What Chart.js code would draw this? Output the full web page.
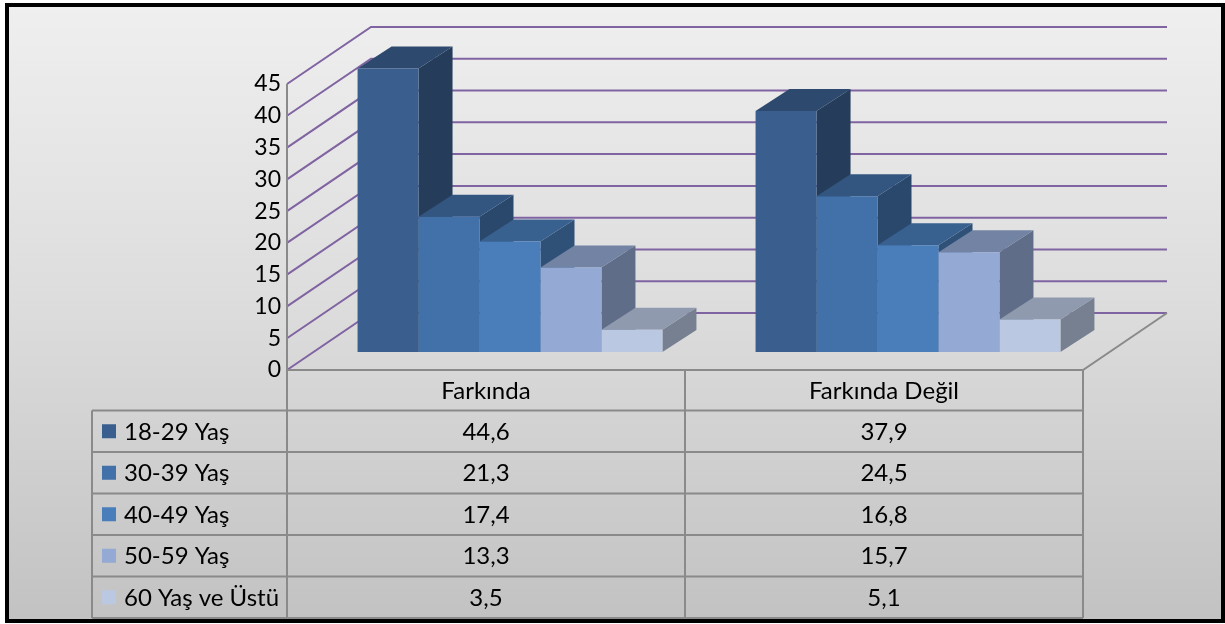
<!DOCTYPE html>
<html>
<head>
<meta charset="utf-8">
<script src="https://cdn.jsdelivr.net/npm/chart.js@4.4.1/dist/chart.umd.min.js"></script>
<style>
  html, body { margin: 0; padding: 0; background: #fff; }
  canvas { display: block; }
</style>
</head>
<body>
<canvas id="chart" width="1225" height="624"></canvas>
<script>
// Veriler
const categories = ['Farkında', 'Farkında Değil'];
const seriesNames = ['18-29 Yaş', '30-39 Yaş', '40-49 Yaş', '50-59 Yaş', '60 Yaş ve Üstü'];
const age18to29 = [44.6, 37.9];
const age30to39 = [21.3, 24.5];
const age40to49 = [17.4, 16.8];
const age50to59 = [13.3, 15.7];
const age60plus = [3.5, 5.1];
const yTicks = [0, 5, 10, 15, 20, 25, 30, 35, 40, 45];

const seriesValues = [age18to29, age30to39, age40to49, age50to59, age60plus];
const frontColors = ['#3a5f8e', '#4270a8', '#4a7ebb', '#94aad4', '#bac8e2'];

// 3B görünüm için kaydırmalar
const WALL_DEPTH = { x: 84, y: -57 };
const BAR_SHIFT = { x: 24, y: -18 };
const BAR_DEPTH = { x: 34, y: -22 };
const FONT = 'Lato, "Open Sans", sans-serif';

function shade(hex, f) {
    const n = parseInt(hex.slice(1), 16);
    const r = Math.round(((n >> 16) & 255) * f);
    const g = Math.round(((n >> 8) & 255) * f);
    const b = Math.round((n & 255) * f);
    return `rgb(${r},${g},${b})`;
}

function poly(ctx, pts) {
    ctx.beginPath();
    ctx.moveTo(pts[0][0], pts[0][1]);
    for (let i = 1; i < pts.length; i++) ctx.lineTo(pts[i][0], pts[i][1]);
    ctx.closePath();
    ctx.fill();
}

const scene3d = {
    id: 'scene3d',
    beforeDraw(chart) {
        const ctx = chart.ctx;
        ctx.save();
        ctx.fillStyle = '#fff';
        ctx.fillRect(0, 0, chart.width, chart.height);
        const grad = ctx.createLinearGradient(0, 5, 0, 621);
        grad.addColorStop(0, '#efefef');
        grad.addColorStop(0.5, '#dcdcdc');
        grad.addColorStop(1, '#c2c2c2');
        ctx.fillStyle = grad;
        ctx.fillRect(7, 5, 1216, 616);
        ctx.restore();
    },
    beforeDatasetsDraw(chart) {
        const { ctx, chartArea: a, scales: { y } } = chart;
        // Duvar çizgileri
        ctx.save();
        ctx.strokeStyle = '#8064a2';
        ctx.lineWidth = 2;
        yTicks.forEach(v => {
            const py = y.getPixelForValue(v);
            ctx.beginPath();
            ctx.moveTo(a.left, py);
            ctx.lineTo(a.left + WALL_DEPTH.x, py + WALL_DEPTH.y);
            ctx.lineTo(a.right + WALL_DEPTH.x, py + WALL_DEPTH.y);
            ctx.stroke();
        });
        // Zemin ve sol kenar
        ctx.strokeStyle = '#8a8a8a';
        ctx.beginPath();
        ctx.moveTo(a.left, a.top);
        ctx.lineTo(a.left, a.bottom);
        ctx.lineTo(a.right, a.bottom);
        ctx.lineTo(a.right + WALL_DEPTH.x, a.bottom + WALL_DEPTH.y);
        ctx.stroke();
        ctx.restore();

        // Çubukların yan ve üst yüzleri (ön yüzü Chart.js çiziyor)
        ctx.save();
        ctx.translate(BAR_SHIFT.x, BAR_SHIFT.y);
        chart.data.datasets.forEach((ds, i) => {
            const meta = chart.getDatasetMeta(i);
            meta.data.forEach(bar => {
                const p = bar.getProps(['x', 'y', 'base', 'width'], true);
                const l = p.x - p.width / 2, r = p.x + p.width / 2;
                const dx = BAR_DEPTH.x, dy = BAR_DEPTH.y;
                ctx.fillStyle = shade(frontColors[i], 0.64);
                poly(ctx, [[r, p.y], [r + dx, p.y + dy], [r + dx, p.base + dy], [r, p.base]]);
                ctx.fillStyle = shade(frontColors[i], 0.77);
                poly(ctx, [[l, p.y], [r, p.y], [r + dx, p.y + dy], [l + dx, p.y + dy]]);
            });
        });
        // translate açık kalıyor, afterDatasetsDraw içinde kapanıyor
    },
    afterDatasetsDraw(chart) {
        chart.ctx.restore();
    },
    afterDraw(chart) {
        const { ctx, chartArea: a, scales: { x } } = chart;
        const half = (x.getPixelForValue(1) - x.getPixelForValue(0)) / 2;
        const headTop = a.bottom, headH = 40.5, rowH = 41.5;
        const labelLeft = 92;
        const rowsTop = headTop + headH;
        const bottom = rowsTop + rowH * seriesNames.length;

        ctx.save();
        ctx.strokeStyle = '#8a8a8a';
        ctx.lineWidth = 2;
        ctx.beginPath();
        ctx.moveTo(a.left, headTop); ctx.lineTo(a.right, headTop);
        for (let r = 0; r <= seriesNames.length; r++) {
            const yy = rowsTop + r * rowH;
            ctx.moveTo(labelLeft, yy); ctx.lineTo(a.right, yy);
        }
        ctx.moveTo(labelLeft, rowsTop); ctx.lineTo(labelLeft, bottom);
        categories.forEach((c, i) => {
            const cx = x.getPixelForValue(i);
            ctx.moveTo(cx - half, headTop); ctx.lineTo(cx - half, bottom);
        });
        ctx.moveTo(a.right, headTop); ctx.lineTo(a.right, bottom);
        ctx.stroke();

        ctx.fillStyle = '#000';
        ctx.font = `24px ${FONT}`;
        ctx.textBaseline = 'middle';
        ctx.textAlign = 'center';
        categories.forEach((c, i) => {
            ctx.fillText(c, x.getPixelForValue(i), headTop + headH / 2 + 1);
        });
        seriesNames.forEach((name, r) => {
            const cy = rowsTop + r * rowH + rowH / 2 + 1;
            ctx.textAlign = 'center';
            seriesValues[r].forEach((v, i) => {
                ctx.fillText(v.toFixed(1).replace('.', ','), x.getPixelForValue(i), cy);
            });
            ctx.fillStyle = frontColors[r];
            ctx.fillRect(102, cy - 8, 14, 14);
            ctx.fillStyle = '#000';
            ctx.textAlign = 'left';
            ctx.fillText(name, 124, cy);
        });

        // Dış çerçeve
        ctx.strokeStyle = '#000';
        ctx.lineWidth = 4;
        ctx.strokeRect(7, 5, 1216, 616);
        ctx.restore();
    }
};

new Chart(document.getElementById('chart'), {
    type: 'bar',
    data: {
        labels: categories,
        datasets: seriesNames.map((name, i) => ({
            label: name,
            data: seriesValues[i],
            backgroundColor: frontColors[i],
            borderWidth: 0,
            categoryPercentage: 0.766,
            barPercentage: 1.0
        }))
    },
    options: {
        responsive: false,
        devicePixelRatio: 1,
        animation: false,
        events: [],
        layout: { padding: { left: 0, right: 142, top: 84, bottom: 254 } },
        plugins: {
            legend: { display: false },
            tooltip: { enabled: false }
        },
        scales: {
            x: { display: false },
            y: {
                min: 0,
                max: 45,
                afterFit: s => { s.width = 287; },
                afterBuildTicks: s => { s.ticks = yTicks.map(v => ({ value: v })); },
                grid: { display: false, drawTicks: false },
                border: { display: false },
                ticks: {
                    color: '#000',
                    padding: 6,
                    font: { family: FONT, size: 23 }
                }
            }
        }
    },
    plugins: [scene3d]
});
</script>
</body>
</html>
